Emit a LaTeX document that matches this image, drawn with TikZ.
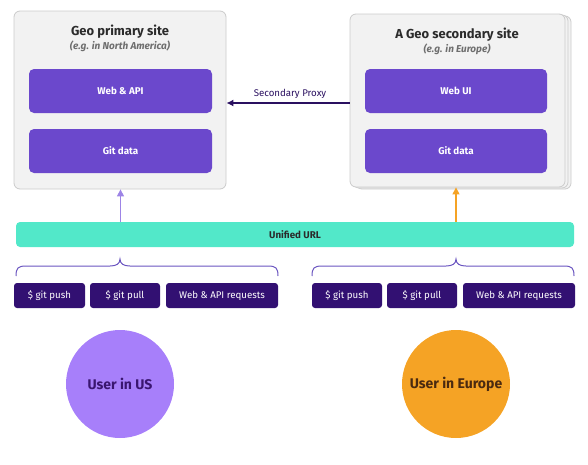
\documentclass[tikz,border=0pt]{standalone}
\usepackage{fontspec}
\setmainfont{Fira Sans}
\usetikzlibrary{arrows.meta}
\definecolor{boxbg}{HTML}{F2F2F2}
\definecolor{boxline}{HTML}{CBCBCB}
\definecolor{midpurple}{HTML}{6B48CC}
\definecolor{darkpurple}{HTML}{321072}
\definecolor{teal}{HTML}{52E8C9}
\definecolor{lilac}{HTML}{9D84E6}
\definecolor{usercol}{HTML}{A77FFA}
\definecolor{orangecol}{HTML}{F5A325}
\definecolor{navy}{HTML}{2A1060}
\definecolor{bracecol}{HTML}{6A55C0}
\definecolor{subgray}{HTML}{6E6E6E}
\definecolor{titlecol}{HTML}{2B2B2B}
\definecolor{ustext}{HTML}{3A1670}
\definecolor{eutext}{HTML}{4A2A10}
\tikzset{
  sitebox/.style={draw=boxline, fill=boxbg, line width=0.8pt, rounded corners=6pt, inner sep=0pt},
  innerbox/.style={fill=midpurple, rounded corners=5pt, text=white, font=\bfseries\fontsize{9.8}{11}\selectfont, minimum height=44pt, inner sep=0pt},
  btn/.style={fill=darkpurple, rounded corners=3pt, text=white, font=\fontsize{9.7}{11}\selectfont, minimum height=25pt, inner sep=0pt},
  sitetitle/.style={font=\bfseries\fontsize{13}{15}\selectfont, text=titlecol, inner sep=0pt},
  sitesub/.style={font=\bfseries\itshape\fontsize{10}{12}\selectfont, text=subgray, inner sep=0pt},
  usercircle/.style={circle, minimum size=108pt, inner sep=0pt, font=\bfseries\fontsize{14}{16}\selectfont},
  bracepath/.style={draw=bracecol, line width=1pt},
}
\begin{document}
\begin{tikzpicture}[x=1pt,y=-1pt]
\useasboundingbox (0,0) rectangle (588,464);
% primary site
\node[sitebox, minimum width=212pt, minimum height=178pt] (primary) at (120,100) {};
\node[sitetitle] (ptitle) at (120,32) {Geo primary site};
\node[sitesub] (psub) at (120,46) {(e.g. in North America)};
\node[innerbox, minimum width=183pt] (webapi) at (120.5,91) {Web \& API};
\node[innerbox, minimum width=183pt] (gitp) at (120.5,151) {Git data};
% secondary site (stacked)
\node[sitebox, minimum width=215pt, minimum height=173pt] (back2) at (463.5,102.5) {};
\node[sitebox, minimum width=215pt, minimum height=173pt] (back1) at (460.5,101.5) {};
\node[sitebox, minimum width=215pt, minimum height=173pt] (secondary) at (457.5,100.5) {};
\node[sitetitle] (stitle) at (457,35) {A Geo secondary site};
\node[sitesub] (ssub) at (457,49) {(e.g. in Europe)};
\node[innerbox, minimum width=182pt] (webui) at (456,91) {Web UI};
\node[innerbox, minimum width=182pt] (gits) at (456,151) {Git data};
% secondary proxy
\coordinate (proxyy) at (0,103);
\draw[navy, line width=1.3pt, -{Latex[length=7pt,width=7pt]}] (secondary.west |- proxyy) -- (primary.east |- proxyy);
\node[font=\fontsize{9.7}{11}\selectfont, text=navy, inner sep=0pt] (proxylabel) at (290,94) {Secondary Proxy};
% unified URL
\node[fill=teal, rounded corners=4pt, minimum width=558pt, minimum height=25pt, inner sep=0pt, font=\bfseries\fontsize{9.8}{11}\selectfont, text=titlecol] (url) at (295,234.5) {Unified URL};
\draw[lilac, line width=1.3pt, -{Triangle[length=7pt,width=7pt]}] (url.north -| gitp.south) -- (primary.south -| gitp.south);
\draw[orangecol, line width=1.3pt, -{Triangle[length=7pt,width=7pt]}] (url.north -| gits.south) -- (secondary.south -| gits.south);
% braces
\draw[bracepath] (16,276) .. controls (16,268) and (18,266) .. (26,266) -- (110,266) .. controls (116,266) and (120,264) .. (120,259) .. controls (120,264) and (124,266) .. (130,266) -- (268,266) .. controls (276,266) and (278,268) .. (278,276);
\draw[bracepath] (312,276) .. controls (312,268) and (314,266) .. (322,266) -- (446,266) .. controls (452,266) and (456,264) .. (456,259) .. controls (456,264) and (460,266) .. (466,266) -- (564,266) .. controls (572,266) and (574,268) .. (574,276);
% buttons
\node[btn, minimum width=71pt] (lpush) at (49.5,295.5) {\$ git push};
\node[btn, minimum width=70pt] (lpull) at (125,295.5) {\$ git pull};
\node[btn, minimum width=112pt] (lreq) at (222,295.5) {Web \& API requests};
\node[btn, minimum width=70pt] (rpush) at (347,295.5) {\$ git push};
\node[btn, minimum width=70pt] (rpull) at (422,295.5) {\$ git pull};
\node[btn, minimum width=112pt] (rreq) at (519,295.5) {Web \& API requests};
% users
\node[usercircle, fill=usercol, text=ustext] (userus) at (120,384) {User in US};
\node[usercircle, fill=orangecol, text=eutext] (usereu) at (456,384) {User in Europe};
\end{tikzpicture}
\end{document}
